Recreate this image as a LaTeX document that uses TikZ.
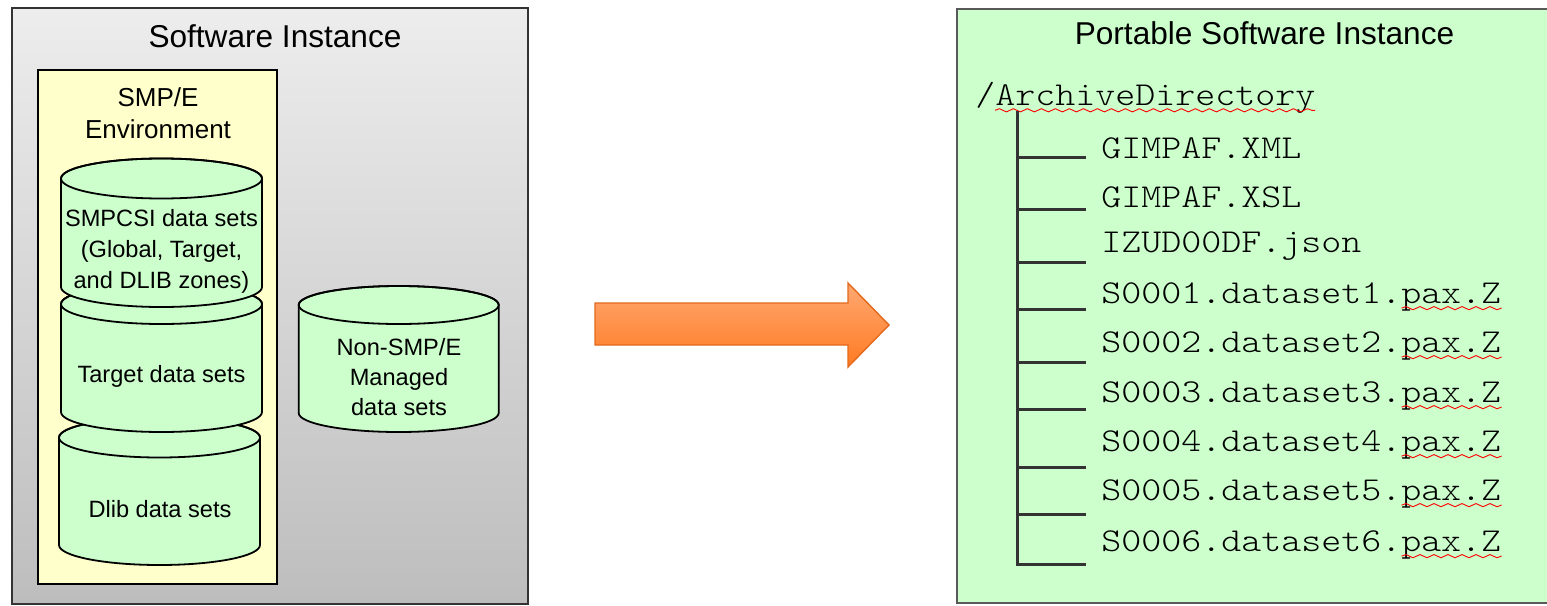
\documentclass[tikz,border=0pt]{standalone}
\usepackage{fontspec}
\setmainfont{Liberation Sans}
\newfontfamily\treefont{lmmonolt10-regular}[Extension=.otf,FakeStretch=1.14]
\usepackage{tikz}
\usetikzlibrary{decorations.pathmorphing}

\definecolor{cylgreen}{HTML}{CCFFCC}
\definecolor{envyellow}{HTML}{FFFFCC}
\definecolor{boxtop}{HTML}{EDEDED}
\definecolor{boxbot}{HTML}{BDBDBD}
\definecolor{arrowtop}{HTML}{FFA872}
\definecolor{arrowbot}{HTML}{FF7B22}
\definecolor{arrowline}{HTML}{E2691D}
\definecolor{treegray}{HTML}{333333}

\begin{document}
\begin{tikzpicture}[x=0.5pt, y=0.5pt,
    cyltext/.style={align=center, font=\fontsize{11.8}{15.5}\selectfont},
    boxtitle/.style={font=\fontsize{15.8}{19}\selectfont},
    fileitem/.style={anchor=west, inner sep=0pt, font=\treefont\fontsize{16.7}{20}\selectfont},
    treeline/.style={draw=treegray, line width=1.5pt},
    squiggle/.style={draw=red, line width=0.45pt,
      decorate, decoration={snake, amplitude=0.8pt, segment length=7pt}}]

    % cx, top y, bottom y, rx, ry (pixels, y going down)
    \newcommand\drum[5]{%
      \filldraw [fill=cylgreen, draw=black, line width=0.9pt]
      ({#1-#4}, {-#2}) -- ({#1-#4}, {-#3})
      arc [start angle=180, end angle=360, x radius={#4*0.5pt}, y radius={#5*0.5pt}]
      -- ({#1+#4}, {-#2})
      arc [start angle=0, end angle=180, x radius={#4*0.5pt}, y radius={#5*0.5pt}]
      -- cycle;
      \draw [line width=0.9pt] (#1, {-#2})
      ellipse [x radius={#4*0.5pt}, y radius={#5*0.5pt}];
    }

    \useasboundingbox (0, 0) rectangle (1547, -605);

    % left: software instance
    \shade [top color=boxtop, bottom color=boxbot] (12, -8) rectangle (528, -604);
    \draw [black!80, line width=0.8pt] (12, -8) rectangle (528, -604);
    \node [boxtitle] (swinst) at (275, -36) {Software Instance};

    \filldraw [fill=envyellow, draw=black, line width=1pt] (38, -70) rectangle (277, -584);
    \node [align=center, font=\fontsize{13}{16.25}\selectfont] (smpenv) at (158, -113)
    {SMP/E\\Environment};

    \drum{159.5}{437.5}{545}{100.5}{20}
    \drum{161.5}{304}{412}{100.5}{20}
    \drum{161.5}{178.5}{287}{100.5}{20}
    \drum{398.7}{305}{413}{100}{19}

    \node [cyltext] (csi) at (161.5, -251)
    {SMPCSI data sets\\(Global, Target,\\and DLIB zones)};
    \node [cyltext] (tgt) at (161.5, -376) {Target data sets};
    \node [cyltext] (dlib) at (160, -509) {Dlib data sets};
    \node [cyltext, font=\fontsize{11.8}{15.1}\selectfont] (nonsmp) at (399, -377)
    {Non-SMP/E\\Managed\\data sets};

    % arrow
    \shade [top color=arrowtop, bottom color=arrowbot, draw=arrowline, line width=0.7pt]
    (595, -303) -- (848, -303) -- (848, -283) -- (889, -325)
    -- (848, -367) -- (848, -345) -- (595, -345) -- cycle;

    % right: portable software instance
    \filldraw [fill=cylgreen, draw=black!65, line width=1pt] (957, -9) rectangle (1560, -603);
    \node [boxtitle] (portinst) at (1264.5, -33) {Portable Software Instance};

    \node [fileitem] (archdir) at (975, -98) {/ArchiveDirectory};
    \draw [squiggle] ([xshift=10pt, yshift=-2.3pt]archdir.base west) -- ++(160pt, 0);

    \coordinate (trunk) at (1017, -112);
    \foreach \n/\fname/\ty/\by in {1/GIMPAF.XML/148/157, 2/GIMPAF.XSL/197/209,
        3/IZUD00DF.json/246/262, 4/S0001.dataset1.pax.Z/297/309,
        5/S0002.dataset2.pax.Z/346/362, 6/S0003.dataset3.pax.Z/396/409,
        7/S0004.dataset4.pax.Z/445/467, 8/S0005.dataset5.pax.Z/494/514,
        9/S0006.dataset6.pax.Z/545/564} {
      \node [fileitem] (file\n) at (1101, -\ty) {\fname};
      \coordinate (br\n) at (1017, -\by);
      \draw [treeline] (br\n) -- ++(69, 0);
      \ifnum\n>3
        \draw [squiggle] ([xshift=150.3pt, yshift=-2.3pt]file\n.base west) -- ++(50pt, 0);
      \fi
    }
    \draw [treeline, line cap=rect] (trunk) -- (br9);

\end{tikzpicture}
\end{document}
